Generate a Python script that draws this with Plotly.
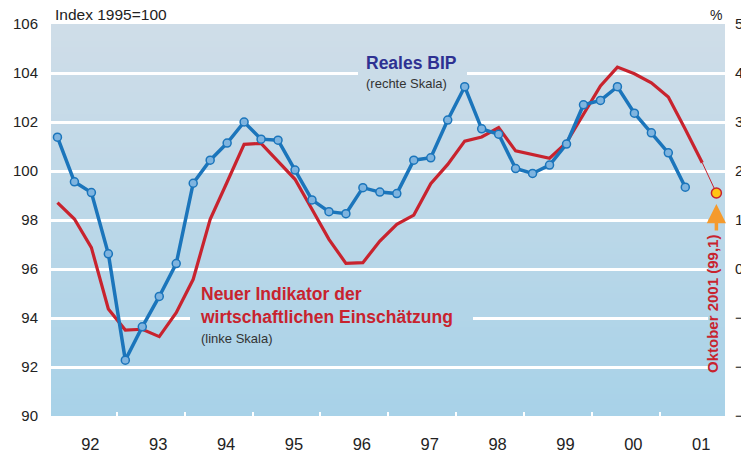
import plotly.graph_objects as go

# ---------------- data ----------------
quarters = [f"{y}Q{q}" for y in range(1992, 2002) for q in range(1, 5)]
# Real GDP, % change (right scale), 1992Q1 .. 2001Q2
gdp_pct = [2.69, 1.78, 1.56, 0.31,
           -1.86, -1.18, -0.56, 0.11,
           1.75, 2.22, 2.57, 3.00,
           2.65, 2.63, 2.02, 1.41,
           1.17, 1.13, 1.66, 1.57,
           1.54, 2.22, 2.27, 3.04,
           3.72, 2.86, 2.75, 2.05,
           1.95, 2.12, 2.55, 3.35,
           3.44, 3.72, 3.18, 2.78,
           2.37, 1.67]
# New indicator of economic assessment, Index 1995=100 (left scale), 1992Q1 .. 2001Q3
indicator = [98.71, 98.04, 96.87, 94.37,
             93.51, 93.54, 93.24, 94.22,
             95.58, 98.03, 99.55, 101.09,
             101.13, 100.41, 99.66, 98.44,
             97.21, 96.23, 96.26, 97.14,
             97.82, 98.20, 99.48, 100.27,
             101.22, 101.39, 101.77, 100.82,
             100.68, 100.52, 101.16, 102.31,
             103.47, 104.24, 103.97, 103.60,
             103.02, 101.70, 100.34]
latest_month = (2001, 10)
latest_value = 99.1

year_labels = ["92", "93", "94", "95", "96", "97", "98", "99", "00", "01"]
years = list(range(1992, 2002))
left_ticks = [90, 92, 94, 96, 98, 100, 102, 104, 106]
right_ticks = [-3, -2, -1, 0, 1, 2, 3, 4, 5]


def q_to_x(label):
    y, q = label.split("Q")
    return int(y) + (int(q) - 0.5) / 4


x_gdp = [q_to_x(q) for q in quarters[:len(gdp_pct)]]
x_ind = [q_to_x(q) for q in quarters[:len(indicator)]]
x_latest = latest_month[0] + latest_month[1] / 12

RED = "#c8232e"
BLUE = "#1b75bb"
FONT = "Liberation Sans, Arial, sans-serif"

# geometry (page pixels); the page body adds an 8px offset
OFF = 8
W, H = 749 - OFF, 450 - OFF
L, R, T, B = 51 - OFF, 24, 24 - OFF, 34
PW, PH = W - L - R, H - T - B
XR = [1992.03, 2001.96]
YR = [90, 106]


def px(x):  # page pixel -> paper x
    return (x - OFF - L) / PW


def py(y):  # page pixel -> paper y
    return (OFF + T + PH - y) / PH


def xd(p):  # page pixel -> data x
    return XR[0] + px(p) * (XR[1] - XR[0])


fig = go.Figure()

fig.add_trace(go.Scatter(x=x_ind, y=indicator, mode="lines",
                         line=dict(color=RED, width=3.2), yaxis="y",
                         hoverinfo="skip", showlegend=False))
fig.add_trace(go.Scatter(x=[x_ind[-1], x_latest], y=[indicator[-1], latest_value],
                         mode="lines", line=dict(color=RED, width=1),
                         yaxis="y", hoverinfo="skip", showlegend=False))
fig.add_trace(go.Scatter(x=x_gdp, y=gdp_pct, mode="lines+markers",
                         line=dict(color=BLUE, width=3.5),
                         marker=dict(size=8, color="#7fb4df",
                                     line=dict(color=BLUE, width=1.5)),
                         yaxis="y2", hoverinfo="skip", showlegend=False))
fig.add_trace(go.Scatter(x=[x_latest], y=[latest_value], mode="markers",
                         marker=dict(size=10, color="#ffc415",
                                     line=dict(color=RED, width=1.5)),
                         yaxis="y", hoverinfo="skip", showlegend=False))

# background vertical gradient
top = (207, 221, 232)
bot = (168, 210, 232)


def grad(frac):
    c = tuple(round(bot[k] + (top[k] - bot[k]) * frac) for k in range(3))
    return "rgb(%d,%d,%d)" % c


n = 70
shapes = []
for i in range(n):
    shapes.append(dict(type="rect", xref="x domain", yref="y domain",
                       x0=0, x1=1, y0=i / n, y1=min(1, (i + 1.6) / n),
                       fillcolor=grad(i / (n - 1)), line=dict(width=0),
                       layer="below"))


# gaps in grid lines behind text blocks
def gap(x0p, x1p, yval):
    f = (yval - YR[0]) / (YR[1] - YR[0])
    return dict(type="rect", xref="x", yref="y",
                x0=xd(x0p), x1=xd(x1p), y0=yval - 0.12, y1=yval + 0.12,
                fillcolor=grad(f), line=dict(width=0), layer="above")


shapes.append(gap(358, 467, 104))
shapes.append(gap(190, 473, 94))
for gv in (98, 96, 94, 92):
    shapes.append(gap(708, 726, gv))

annotations = [
    dict(text="Index 1995=100", xref="paper", yref="paper",
         x=px(53), y=py(14), xanchor="left", yanchor="middle",
         showarrow=False, font=dict(family=FONT, size=15.5, color="#222")),
    dict(text="%", xref="paper", yref="paper",
         x=px(716), y=py(15), xanchor="center", yanchor="middle",
         showarrow=False, font=dict(family=FONT, size=14, color="#222")),
    dict(text="<b>Reales BIP</b>", xref="paper", yref="paper",
         x=px(411), y=py(63), xanchor="center", yanchor="middle",
         showarrow=False, font=dict(family=FONT, size=17.5, color="#2e3192")),
    dict(text="(rechte Skala)", xref="paper", yref="paper",
         x=px(364), y=py(84), xanchor="left", yanchor="middle",
         showarrow=False, font=dict(family=FONT, size=13, color="#333")),
    dict(text="<b>Neuer Indikator der<br>wirtschaftlichen Einschätzung</b>",
         xref="paper", yref="paper",
         x=px(198), y=py(305), xanchor="left", yanchor="middle",
         showarrow=False, align="left",
         font=dict(family=FONT, size=17.5, color=RED)),
    dict(text="(linke Skala)", xref="paper", yref="paper",
         x=px(199), y=py(338), xanchor="left", yanchor="middle",
         showarrow=False, font=dict(family=FONT, size=13, color="#333")),
    dict(text="<b>Oktober 2001 (99,1)</b>", xref="paper", yref="paper",
         x=px(712), y=py(304), xanchor="center", yanchor="middle",
         textangle=-90, showarrow=False,
         font=dict(family=FONT, size=15, color=RED)),
    dict(text="", x=x_latest, y=98.65, xref="x", yref="y",
         showarrow=True, ax=0, ay=28, arrowhead=2, arrowsize=1.1,
         arrowwidth=3.5, arrowcolor="#f59a2c"),
]

fig.update_layout(
    width=W, height=H,
    margin=dict(l=L, r=R, t=T, b=B, autoexpand=False),
    paper_bgcolor="white", plot_bgcolor="rgb(188,216,232)",
    font=dict(family=FONT, color="#222"),
    showlegend=False,
    shapes=shapes,
    annotations=annotations,
    xaxis=dict(range=XR, showgrid=False, zeroline=False, automargin=False,
               tickmode="array", tickvals=[y + 0.61 for y in years],
               ticktext=year_labels, ticks="", showline=False,
               tickfont=dict(size=16.5, color="#222"), ticklabelstandoff=16,
               minor=dict(tickmode="array", tickvals=years[1:], ticks="inside",
                          ticklen=4, tickwidth=2, tickcolor="white", showgrid=False)),
    yaxis=dict(range=YR, tickmode="array", tickvals=left_ticks, automargin=False,
               showgrid=True, gridcolor="white", gridwidth=3, zeroline=False,
               ticks="", showline=False, tickfont=dict(size=15, color="#222"),
               ticklabelstandoff=12),
    yaxis2=dict(range=[-3, 5], overlaying="y", side="right", tickmode="array",
                tickvals=right_ticks, showgrid=False, zeroline=False, ticks="",
                automargin=False,
                showline=False, tickfont=dict(size=15, color="#222"),
                ticklabelstandoff=9),
)

fig.write_html("out.html")
